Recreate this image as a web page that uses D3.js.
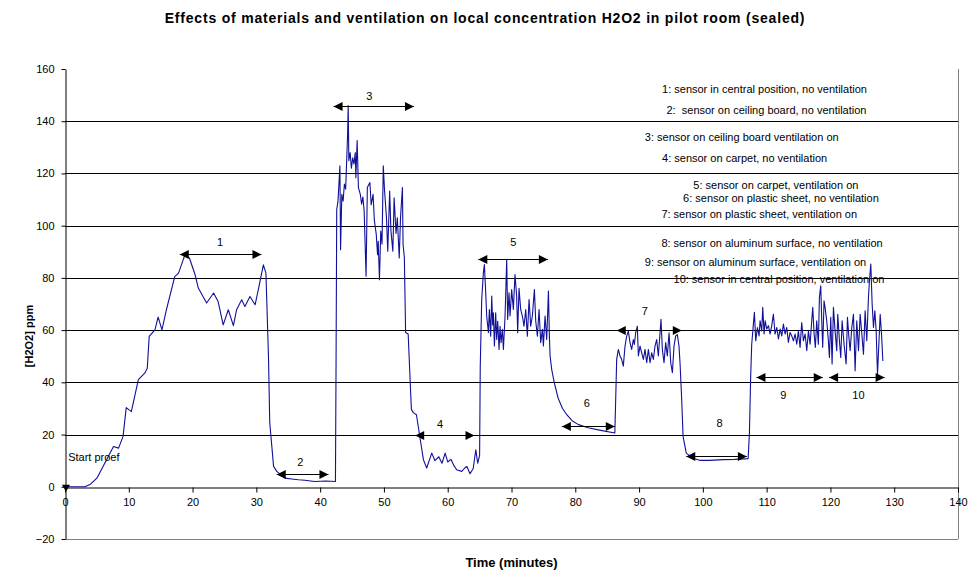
<!DOCTYPE html>
<html>
<head>
<meta charset="utf-8">
<script src="https://cdn.jsdelivr.net/npm/d3@7"></script>
<style>
  html, body { margin: 0; padding: 0; background: #fff; }
  svg { display: block; font-family: "Liberation Sans", Arial, sans-serif; }
</style>
</head>
<body>
<svg id="chart" width="970" height="572"></svg>
<script>
// Time (minutes) of each sensor reading
const timeMin = [
  0, 3.1, 4.0, 5.0, 6.5, 7.6, 8.4, 9.1, 9.6, 10.4, 11.5, 12.5, 12.9, 13.2, 14.1, 14.6, 15.2, 15.9,
  17.2, 17.8, 18.8, 19.5, 20.4, 20.9, 22.2, 23.3, 24.0, 24.8, 25.6, 26.4, 26.9, 27.7, 28.2, 29.0,
  29.8, 30.3, 31.1, 31.5, 31.9, 32.1, 32.7, 33.2, 34.5, 35.5, 36.6, 37.6, 38.5, 39.2, 40.9, 42.4,
  42.5, 42.6, 42.8, 43.1, 43.2, 43.4, 43.6, 43.8, 44.0, 44.3, 44.4, 44.5, 44.7, 44.9, 45.1, 45.3,
  45.5, 45.6, 45.8, 46.0, 46.3, 46.5, 46.7, 46.9, 47.2, 47.4, 47.8, 48.0, 48.3, 48.5, 48.8, 49.0,
  49.1, 49.3, 49.5, 49.7, 49.9, 50.1, 50.4, 50.6, 50.9, 51.1, 51.4, 51.6, 51.9, 52.1, 52.4, 52.6,
  52.9, 53.0, 53.2, 53.4, 53.8, 54.3, 54.6, 55.1, 55.7, 56.2, 56.7, 57.5, 58.0, 58.6, 59.1, 59.6,
  60.0, 60.5, 61.0, 61.4, 62.2, 62.6, 63.0, 63.5, 64.0, 64.4, 64.7, 65.0, 65.1, 65.33, 65.59, 65.75,
  65.96, 66.11, 66.38, 66.53, 66.74, 66.90, 67.05, 67.16, 67.32, 67.52, 67.68, 67.84, 68.05, 68.20,
  68.36, 68.57, 68.73, 68.99, 69.25, 69.40, 69.61, 69.77, 70.03, 70.29, 70.55, 70.81, 70.97, 71.18,
  71.44, 71.70, 71.96, 72.23, 72.49, 72.75, 73.01, 73.27, 73.59, 73.80, 74.06, 74.32, 74.58, 74.85,
  75.00, 75.26, 75.52, 75.79, 75.94, 76.05, 76.3, 76.7, 77.3, 78.0, 78.7, 79.5, 80.5, 82.0, 84.0,
  86.2, 86.3, 86.49, 86.75, 87.01, 87.27, 87.53, 87.80, 88.06, 88.32, 88.58, 88.84, 89.10, 89.26,
  89.47, 89.73, 89.89, 90.15, 90.41, 90.67, 90.93, 91.20, 91.46, 91.72, 91.98, 92.24, 92.50, 92.76,
  93.02, 93.29, 93.44, 93.65, 93.91, 94.17, 94.43, 94.70, 94.96, 95.22, 95.48, 95.74, 96.00, 96.26,
  96.42, 96.68, 96.9, 97.4, 98.4, 99.6, 101.0, 103.2, 105.0, 107.1, 107.3, 107.5,
  107.66, 107.92, 108.08, 108.29, 108.55, 108.81, 108.97, 109.23, 109.39, 109.60, 109.76, 110.02,
  110.28, 110.54, 110.80, 111.06, 111.32, 111.59, 111.85, 112.11, 112.37, 112.63, 112.89, 113.15,
  113.41, 113.67, 113.93, 114.20, 114.46, 114.72, 114.98, 115.24, 115.50, 115.76, 116.03, 116.29,
  116.55, 116.81, 117.07, 117.23, 117.44, 117.64, 117.85, 118.11, 118.27, 118.48, 118.64, 118.79,
  119.00, 119.16, 119.42, 119.68, 119.84, 120.05, 120.26, 120.47, 120.73, 120.99, 121.15, 121.41,
  121.62, 121.83, 122.14, 122.46, 122.67, 122.88, 123.09, 123.35, 123.61, 123.87, 124.13, 124.40,
  124.66, 124.92, 125.18, 125.44, 125.70, 125.96, 126.12, 126.33, 126.54, 126.75, 126.96, 127.17,
  127.38, 127.59, 127.80, 128.01, 128.22
];

// Measured H2O2 concentration (ppm) at each time above
const ppmH2O2 = [
  0, 0, 1, 3.3, 10.3, 15.4, 14.8, 19.3, 30.3, 28.8, 41, 43.5, 45.4, 57.6, 60.1, 65, 60.1, 67.8,
  80.5, 81.8, 88.8, 87.6, 81.2, 76.1, 70.4, 74.2, 71, 62, 67.8, 61.7, 67.8, 71.6, 69, 72.9,
  69.7, 75.4, 85, 81.8, 50, 24.5, 7.8, 5.9, 3.3, 3, 2.7, 2.5, 2.2, 2, 2.2, 2,
  50, 106.2, 109.4, 122.9, 90.8, 112, 109.4, 115.9, 114, 134.5, 146, 124.9, 128, 122, 126, 123.6,
  128, 118.4, 132.6, 114.6, 112, 108.2, 111, 105.6, 80.6, 114.6, 116.5, 108, 112, 102, 96.6, 88.9,
  94, 79.3, 97.9, 93, 122.9, 113.3, 103, 90.2, 113.3, 98, 90.2, 110.7, 97, 103, 87.6, 103,
  114.6, 92.8, 88, 59.1, 58.5, 29.7, 28.4, 27.6, 18, 10.3, 7.2, 12.9, 10, 11.5, 9, 12.9,
  9.5, 10.5, 8, 6.5, 5.9, 7, 7.8, 5, 7, 14.2, 9, 12, 46, 71.7, 81.9, 85.1,
  74.3, 65.4, 59, 67.9, 57.7, 73, 62, 66.6, 53.9, 66.6, 56.4, 63.4, 52.6, 61.5,
  55.2, 60.3, 52.6, 65.4, 87.0, 64.1, 74.3, 65.4, 75.5, 67.9, 81.3, 73, 59, 76,
  67.9, 65.4, 61.5, 67.9, 57.7, 71.7, 61.5, 65.4, 75.5, 63.4, 57.7, 67.9, 55.2, 60.3,
  53.9, 65.4, 56.4, 75, 57.7, 50.1, 45, 40, 34, 30, 27.5, 25.3, 23.8, 22.6, 21.6,
  20.6, 30, 48.8, 52.6, 50.1, 48.8, 46.2, 53.9, 57.7, 59.6, 55.2, 52.6, 56.4, 54.5,
  59.0, 61.5, 50.1, 53.9, 51.3, 48.8, 52.6, 47.5, 52.6, 47.5, 51.3, 48.8, 53.9, 56.4,
  50.1, 59.0, 64.1, 52.6, 47.5, 55.2, 50.1, 59.0, 47.5, 43.7, 53.9, 57.7, 58.3, 53.9,
  47.5, 33.5, 19.3, 12.9, 11, 10.1, 10.1, 10.4, 10.5, 10.8, 20.6, 42.4,
  54.6, 62.3, 66.8, 55.9, 61.0, 57.8, 63.6, 59.7, 68.7, 58.5, 63.6, 60.4,
  61.7, 58.5, 61.7, 66.1, 58.5, 61.0, 56.6, 60.4, 57.8, 62.3, 58.5, 61.0,
  55.3, 59.1, 57.8, 55.9, 58.5, 54.6, 59.7, 53.4, 62.9, 55.9, 58.5, 52.1,
  59.7, 54.6, 63.6, 68.7, 58.5, 53.4, 63.6, 54.6, 72.5, 77.0, 63.6, 53.4,
  71.2, 68.7, 63.6, 55.9, 49.5, 64.9, 47.0, 68.7, 59.7, 52.1, 66.1, 55.9,
  49.5, 63.6, 54.6, 47.0, 64.9, 57.8, 52.1, 61.0, 66.1, 44.4, 63.6, 52.1,
  66.1, 58.5, 50.8, 67.4, 55.9, 72.5, 78.9, 85.3, 70.0, 61.0, 67.4, 59.7,
  43.1, 54.6, 66.1, 58.5, 48.2
];

// Axis ticks
const xTicks = [0, 10, 20, 30, 40, 50, 60, 70, 80, 90, 100, 110, 120, 130, 140];
const yTicks = [-20, 0, 20, 40, 60, 80, 100, 120, 140, 160];

// Test phases: label, start/end time (min), level (ppm) of the span arrow
const phaseLabels = ["1", "2", "3", "4", "5", "6", "7", "8", "9", "10"];
const phaseStart  = [18.0, 33.2, 42.1, 54.9, 64.8, 77.9, 86.5, 97.4, 108.4, 119.8];
const phaseEnd    = [30.8, 41.3, 54.7, 64.2, 75.7, 86.2, 96.7, 106.9, 118.8, 128.5];
const phaseLevel  = [89.2, 5.0, 145.7, 20.0, 87.2, 23.4, 59.9, 11.9, 42.0, 42.0];
const phaseTextT  = [24.3, 36.9, 47.7, 58.8, 70.3, 81.8, 90.9, 102.6, 112.6, 124.4];
const phaseTextV  = [93.8, 9.6, 149.7, 24.1, 93.6, 32.0, 67.4, 24.4, 35.2, 35.2];

// Phase descriptions, with their anchor (time, ppm)
const phaseNotes = [
  "1: sensor in central position, no ventilation",
  "2:  sensor on ceiling board, no ventilation",
  "3: sensor on ceiling board ventilation on",
  "4: sensor on carpet, no ventilation",
  "5: sensor on carpet, ventilation on",
  "6: sensor on plastic sheet, no ventilation",
  "7: sensor on plastic sheet, ventilation on",
  "8: sensor on aluminum surface, no ventilation",
  "9: sensor on aluminum surface, ventilation on",
  "10: sensor in central position, ventilation on"
];
const noteT = [93.6, 94.3, 90.9, 93.6, 98.5, 96.9, 93.5, 93.5, 90.9, 95.4];
const noteV = [150.9, 142.9, 132.6, 124.4, 114.1, 109.0, 102.9, 91.8, 84.4, 78.0];

const svg = d3.select("#chart");
const plotLeft = 65, plotRight = 958, plotTop = 69, plotBottom = 539;

const x = d3.scaleLinear().domain([0, 140]).range([plotLeft, plotRight]);
const y = d3.scaleLinear().domain([-20, 160]).range([plotBottom, plotTop]);

// Title
svg.append("text")
  .attr("x", 485).attr("y", 23)
  .attr("text-anchor", "middle")
  .attr("font-size", 14).attr("font-weight", "bold")
  .attr("letter-spacing", 0.8)
  .text("Effects of materials and ventilation on local concentration H2O2 in pilot room (sealed)");

// Plot frame (right and bottom edges)
svg.append("line").attr("x1", plotRight + 0.5).attr("x2", plotRight + 0.5)
  .attr("y1", plotTop).attr("y2", plotBottom)
  .attr("stroke", "#808080");
svg.append("line").attr("x1", plotLeft).attr("x2", plotRight)
  .attr("y1", plotBottom + 0.5).attr("y2", plotBottom + 0.5)
  .attr("stroke", "#808080");

// Horizontal gridlines
svg.append("g").selectAll("line")
  .data(yTicks.filter(v => v > 0 && v < 160))
  .join("line")
  .attr("x1", plotLeft).attr("x2", plotRight)
  .attr("y1", d => Math.round(y(d)) + 0.5).attr("y2", d => Math.round(y(d)) + 0.5)
  .attr("stroke", "#000");

// Y axis
const yAxis = svg.append("g")
  .attr("transform", `translate(${plotLeft + 0.5},0)`)
  .call(d3.axisLeft(y).tickValues(yTicks).tickSize(4).tickPadding(7).tickSizeOuter(0));
yAxis.selectAll("text").attr("font-size", 11).attr("font-family", "Liberation Sans, Arial, sans-serif");

// X axis through zero
const xAxis = svg.append("g")
  .attr("transform", `translate(0,${Math.round(y(0)) + 0.5})`)
  .call(d3.axisBottom(x).tickValues(xTicks).tickSize(5).tickPadding(6).tickSizeOuter(0));
xAxis.selectAll("text").attr("font-size", 11).attr("font-family", "Liberation Sans, Arial, sans-serif");
svg.selectAll(".domain, .tick line").attr("stroke", "#000");

// Axis titles
svg.append("text")
  .attr("transform", `translate(33,${(plotTop + plotBottom) / 2 + 32}) rotate(-90)`)
  .attr("text-anchor", "middle")
  .attr("font-size", 11).attr("font-weight", "bold")
  .text("[H2O2] ppm");
svg.append("text")
  .attr("x", (plotLeft + plotRight) / 2).attr("y", 567)
  .attr("text-anchor", "middle")
  .attr("font-size", 13).attr("font-weight", "bold")
  .text("Time (minutes)");

// Concentration trace
const series = timeMin.map((t, i) => [t, ppmH2O2[i]]);
svg.append("path")
  .datum(series)
  .attr("fill", "none")
  .attr("stroke", "#10109a")
  .attr("stroke-width", 1.1)
  .attr("stroke-linejoin", "round")
  .attr("d", d3.line().x(d => x(d[0])).y(d => y(d[1])));

// Start marker
svg.append("path")
  .attr("transform", `translate(${x(0) + 1},${y(0) + 1})`)
  .attr("d", "M-4,-3 L4,-3 L0,4 Z")
  .attr("fill", "#000");
svg.append("text")
  .attr("x", x(0.5)).attr("y", y(10))
  .attr("font-size", 11)
  .text("Start proef");

// Double-headed arrows for each phase
const defs = svg.append("defs");
defs.append("marker")
  .attr("id", "head").attr("viewBox", "0 0 10 10")
  .attr("refX", 10).attr("refY", 5)
  .attr("markerWidth", 10).attr("markerHeight", 9)
  .attr("markerUnits", "userSpaceOnUse")
  .attr("orient", "auto-start-reverse")
  .append("path").attr("d", "M0,0 L10,5 L0,10 Z").attr("fill", "#000");

const arrows = svg.append("g");
phaseLabels.forEach((lab, i) => {
  const yy = Math.round(y(phaseLevel[i])) + 0.5;
  arrows.append("line")
    .attr("x1", x(phaseStart[i])).attr("x2", x(phaseEnd[i]))
    .attr("y1", yy).attr("y2", yy)
    .attr("stroke", "#000").attr("stroke-width", 1.2)
    .attr("marker-start", "url(#head)").attr("marker-end", "url(#head)");
  arrows.append("text")
    .attr("x", x(phaseTextT[i])).attr("y", y(phaseTextV[i]) + 4)
    .attr("text-anchor", "middle")
    .attr("font-size", 11)
    .text(lab);
});

// Phase descriptions
svg.append("g").selectAll("text")
  .data(phaseNotes)
  .join("text")
  .attr("x", (d, i) => x(noteT[i]))
  .attr("y", (d, i) => y(noteV[i]))
  .attr("font-size", 11)
  .style("white-space", "pre")
  .text(d => d);
</script>
</body>
</html>
